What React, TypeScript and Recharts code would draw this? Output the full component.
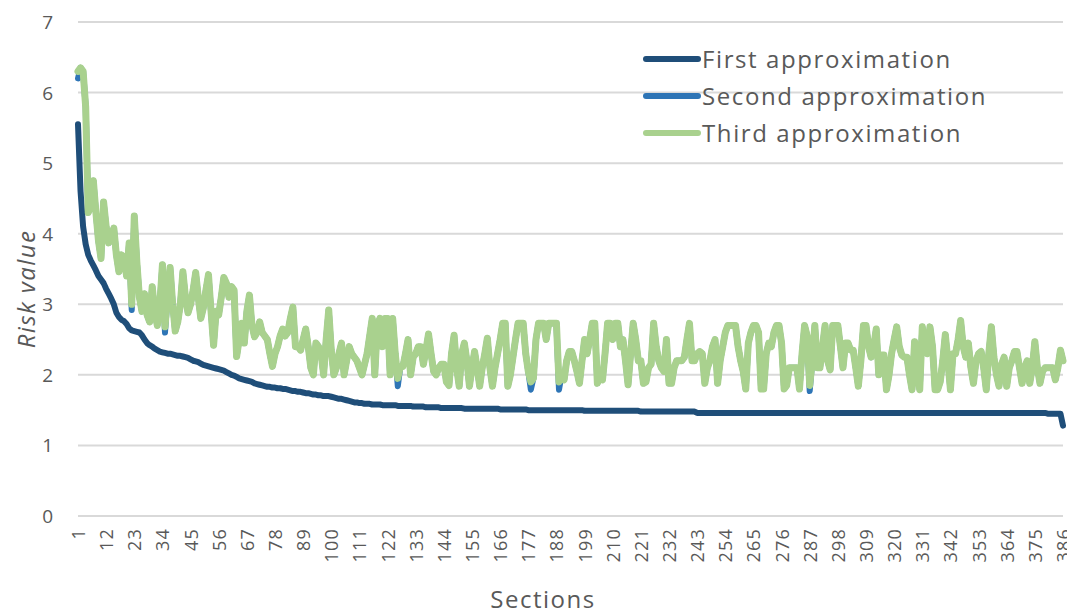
import React from 'react';
import { LineChart, Line, XAxis, YAxis, CartesianGrid, Legend, Label } from 'recharts';

const sections = Array.from({ length: 386 }, (_, i) => i + 1);

const first = [
  5.55, 4.6, 4.1, 3.85, 3.7, 3.62, 3.55, 3.48, 3.4, 3.35, 3.3,
  3.22, 3.15, 3.08, 3.0, 2.88, 2.82, 2.78, 2.76, 2.72, 2.66, 2.63,
  2.62, 2.61, 2.6, 2.56, 2.5, 2.45, 2.42, 2.4, 2.37, 2.35, 2.33,
  2.32, 2.31, 2.3, 2.3, 2.29, 2.28, 2.27, 2.27, 2.26, 2.25, 2.24,
  2.22, 2.2, 2.19, 2.18, 2.16, 2.14, 2.13, 2.12, 2.11, 2.1, 2.09,
  2.08, 2.07, 2.06, 2.04, 2.02, 2.0, 1.99, 1.97, 1.95, 1.94, 1.93,
  1.92, 1.91, 1.9, 1.88, 1.87, 1.86, 1.85, 1.84, 1.83, 1.83, 1.82,
  1.82, 1.81, 1.81, 1.8, 1.8, 1.79, 1.78, 1.77, 1.77, 1.76, 1.76,
  1.75, 1.74, 1.74, 1.73, 1.72, 1.72, 1.71, 1.71, 1.7, 1.7, 1.7,
  1.69, 1.68, 1.67, 1.66, 1.66, 1.65, 1.64, 1.63, 1.62, 1.61, 1.61,
  1.6, 1.6, 1.59, 1.59, 1.59, 1.58, 1.58, 1.58, 1.58, 1.57, 1.57,
  1.57, 1.57, 1.57, 1.57, 1.56, 1.56, 1.56, 1.56, 1.56, 1.56, 1.55,
  1.55, 1.55, 1.55, 1.55, 1.54, 1.54, 1.54, 1.54, 1.54, 1.54, 1.53,
  1.53, 1.53, 1.53, 1.53, 1.53, 1.53, 1.53, 1.53, 1.52, 1.52, 1.52,
  1.52, 1.52, 1.52, 1.52, 1.52, 1.52, 1.52, 1.52, 1.52, 1.52, 1.52,
  1.51, 1.51, 1.51, 1.51, 1.51, 1.51, 1.51, 1.51, 1.51, 1.51, 1.51,
  1.5, 1.5, 1.5, 1.5, 1.5, 1.5, 1.5, 1.5, 1.5, 1.5, 1.5,
  1.5, 1.5, 1.5, 1.5, 1.5, 1.5, 1.5, 1.5, 1.5, 1.5, 1.5,
  1.49, 1.49, 1.49, 1.49, 1.49, 1.49, 1.49, 1.49, 1.49, 1.49, 1.49,
  1.49, 1.49, 1.49, 1.49, 1.49, 1.49, 1.49, 1.49, 1.49, 1.49, 1.49,
  1.48, 1.48, 1.48, 1.48, 1.48, 1.48, 1.48, 1.48, 1.48, 1.48, 1.48,
  1.48, 1.48, 1.48, 1.48, 1.48, 1.48, 1.48, 1.48, 1.48, 1.48, 1.48,
  1.46, 1.46, 1.46, 1.46, 1.46, 1.46, 1.46, 1.46, 1.46, 1.46, 1.46,
  1.46, 1.46, 1.46, 1.46, 1.46, 1.46, 1.46, 1.46, 1.46, 1.46, 1.46,
  1.46, 1.46, 1.46, 1.46, 1.46, 1.46, 1.46, 1.46, 1.46, 1.46, 1.46,
  1.46, 1.46, 1.46, 1.46, 1.46, 1.46, 1.46, 1.46, 1.46, 1.46, 1.46,
  1.46, 1.46, 1.46, 1.46, 1.46, 1.46, 1.46, 1.46, 1.46, 1.46, 1.46,
  1.46, 1.46, 1.46, 1.46, 1.46, 1.46, 1.46, 1.46, 1.46, 1.46, 1.46,
  1.46, 1.46, 1.46, 1.46, 1.46, 1.46, 1.46, 1.46, 1.46, 1.46, 1.46,
  1.46, 1.46, 1.46, 1.46, 1.46, 1.46, 1.46, 1.46, 1.46, 1.46, 1.46,
  1.46, 1.46, 1.46, 1.46, 1.46, 1.46, 1.46, 1.46, 1.46, 1.46, 1.46,
  1.46, 1.46, 1.46, 1.46, 1.46, 1.46, 1.46, 1.46, 1.46, 1.46, 1.46,
  1.46, 1.46, 1.46, 1.46, 1.46, 1.46, 1.46, 1.46, 1.46, 1.46, 1.46,
  1.46, 1.46, 1.46, 1.46, 1.46, 1.46, 1.46, 1.46, 1.46, 1.46, 1.46,
  1.46, 1.46, 1.46, 1.46, 1.46, 1.45, 1.45, 1.45, 1.45, 1.45, 1.45,
  1.28,
];

const second = [
  6.2, 6.35, 6.3, 5.8, 4.3, 4.4, 4.75, 4.3, 3.9, 3.65, 4.45,
  4.1, 3.87, 3.95, 4.08, 3.7, 3.46, 3.7, 3.65, 3.4, 3.87, 2.92,
  4.25, 3.6, 3.1, 2.9, 3.15, 2.85, 2.75, 3.25, 2.9, 2.7, 3.0,
  3.56, 2.6, 3.1, 3.52, 3.0, 2.62, 2.75, 3.0, 3.46, 3.1, 2.88,
  3.0, 3.2, 3.45, 3.1, 2.8, 2.95, 3.2, 3.42, 2.9, 2.42, 2.9,
  2.85, 3.1, 3.38, 3.3, 3.1, 3.25, 3.2, 2.26, 2.5, 2.73, 2.45,
  2.9, 3.13, 2.7, 2.54, 2.6, 2.75, 2.6, 2.55, 2.5, 2.3, 2.12,
  2.3, 2.4, 2.55, 2.65, 2.55, 2.6, 2.8, 2.96, 2.4, 2.4, 2.35,
  2.5, 2.65, 2.4, 2.1, 2.0, 2.45, 2.4, 2.3, 2.0, 2.5, 2.92,
  2.35, 2.0, 2.1, 2.3, 2.45, 2.0, 2.2, 2.4, 2.3, 2.25, 2.2,
  2.1, 2.0, 2.15, 2.3, 2.55, 2.8, 2.0, 2.7, 2.8, 2.4, 2.8,
  2.8, 2.0, 2.8, 2.3, 1.84, 2.12, 2.12, 2.3, 2.5, 2.0, 2.25,
  2.3, 2.4, 2.4, 2.15, 2.35, 2.58, 2.3, 2.05, 2.0, 2.1, 2.15,
  2.15, 1.9, 1.85, 2.3, 2.56, 2.1, 1.84, 2.3, 2.45, 2.2, 1.84,
  2.1, 2.33, 2.1, 1.84, 2.1, 2.3, 2.52, 2.1, 1.84, 2.1, 2.3,
  2.5, 2.73, 2.73, 1.84, 2.0, 2.25, 2.5, 2.73, 2.73, 2.73, 2.3,
  2.05, 1.79, 1.95, 2.5, 2.73, 2.73, 2.73, 2.5, 2.73, 2.73, 2.73,
  2.73, 1.79, 2.0, 1.93, 2.2, 2.33, 2.33, 2.2, 2.05, 1.88, 2.2,
  2.5, 2.3, 2.5, 2.73, 2.73, 1.88, 2.0, 1.93, 2.3, 2.73, 2.73,
  2.5, 2.73, 2.73, 2.4, 2.5, 2.2, 1.86, 2.3, 2.73, 2.5, 2.2,
  2.2, 1.88, 1.9, 2.1, 2.15, 2.73, 2.4, 2.2, 2.1, 2.05, 2.5,
  1.88, 1.88, 2.1, 2.2, 2.2, 2.2, 2.25, 2.5, 2.73, 2.2, 2.2,
  2.3, 2.33, 2.3, 1.88, 2.1, 2.2, 2.4, 2.5, 1.88, 2.2, 2.4,
  2.6, 2.7, 2.7, 2.7, 2.7, 2.4, 2.2, 2.05, 1.8, 2.45, 2.6,
  2.7, 2.7, 2.6, 1.8, 1.8, 2.3, 2.45, 2.4, 2.6, 2.7, 2.7,
  2.45, 1.8, 1.85, 2.1, 2.1, 2.1, 2.1, 1.8, 2.3, 2.7, 2.55,
  1.77, 2.2, 2.7, 2.1, 2.1, 2.4, 2.7, 2.2, 2.07, 2.7, 2.7,
  2.7, 2.4, 2.1, 2.45, 2.45, 2.35, 2.35, 2.1, 1.84, 2.2, 2.7,
  2.7, 2.4, 2.25, 2.4, 2.65, 2.0, 2.28, 2.28, 1.79, 2.0, 2.3,
  2.5, 2.68, 2.4, 2.28, 2.25, 2.25, 2.0, 1.79, 2.47, 2.1, 1.79,
  2.68, 2.4, 2.3, 2.68, 2.4, 1.79, 1.79, 1.9, 2.2, 2.57, 2.2,
  1.79, 2.3, 2.3, 2.5, 2.77, 2.4, 2.25, 2.45, 2.1, 1.88, 2.2,
  2.3, 2.33, 2.1, 1.79, 2.3, 2.68, 2.25, 2.0, 1.84, 2.15, 2.25,
  1.84, 2.1, 2.2, 2.33, 2.33, 2.1, 1.88, 2.1, 2.2, 1.88, 2.1,
  2.47, 2.1, 1.88, 2.05, 2.1, 2.1, 2.1, 2.1, 1.93, 2.1, 2.35,
  2.2,
];

const third = [
  6.3, 6.35, 6.3, 5.8, 4.3, 4.4, 4.75, 4.3, 3.9, 3.65, 4.45,
  4.1, 3.87, 3.95, 4.08, 3.7, 3.46, 3.7, 3.65, 3.4, 3.87, 3.0,
  4.25, 3.6, 3.1, 2.9, 3.15, 2.85, 2.75, 3.25, 2.9, 2.7, 3.0,
  3.56, 2.68, 3.1, 3.52, 3.0, 2.62, 2.75, 3.0, 3.46, 3.1, 2.88,
  3.0, 3.2, 3.45, 3.1, 2.8, 2.95, 3.2, 3.42, 2.9, 2.42, 2.9,
  2.85, 3.1, 3.38, 3.3, 3.1, 3.25, 3.2, 2.26, 2.5, 2.73, 2.45,
  2.9, 3.13, 2.7, 2.54, 2.6, 2.75, 2.6, 2.55, 2.5, 2.3, 2.12,
  2.3, 2.4, 2.55, 2.65, 2.55, 2.6, 2.8, 2.96, 2.4, 2.4, 2.35,
  2.5, 2.65, 2.4, 2.1, 2.0, 2.45, 2.4, 2.3, 2.0, 2.5, 2.92,
  2.35, 2.0, 2.1, 2.3, 2.45, 2.0, 2.2, 2.4, 2.3, 2.25, 2.2,
  2.1, 2.0, 2.15, 2.3, 2.55, 2.8, 2.0, 2.7, 2.8, 2.4, 2.8,
  2.8, 2.0, 2.8, 2.3, 1.95, 2.12, 2.12, 2.3, 2.5, 2.0, 2.25,
  2.3, 2.4, 2.4, 2.15, 2.35, 2.58, 2.3, 2.05, 2.0, 2.1, 2.15,
  2.15, 1.9, 1.85, 2.3, 2.56, 2.1, 1.84, 2.3, 2.45, 2.2, 1.84,
  2.1, 2.33, 2.1, 1.84, 2.1, 2.3, 2.52, 2.1, 1.84, 2.1, 2.3,
  2.5, 2.73, 2.73, 1.84, 2.0, 2.25, 2.5, 2.73, 2.73, 2.73, 2.3,
  2.05, 1.9, 1.95, 2.5, 2.73, 2.73, 2.73, 2.5, 2.73, 2.73, 2.73,
  2.73, 1.9, 2.0, 1.93, 2.2, 2.33, 2.33, 2.2, 2.05, 1.88, 2.2,
  2.5, 2.3, 2.5, 2.73, 2.73, 1.88, 2.0, 1.93, 2.3, 2.73, 2.73,
  2.5, 2.73, 2.73, 2.4, 2.5, 2.2, 1.86, 2.3, 2.73, 2.5, 2.2,
  2.2, 1.88, 1.9, 2.1, 2.15, 2.73, 2.4, 2.2, 2.1, 2.05, 2.5,
  1.88, 1.88, 2.1, 2.2, 2.2, 2.2, 2.25, 2.5, 2.73, 2.2, 2.2,
  2.3, 2.33, 2.3, 1.88, 2.1, 2.2, 2.4, 2.5, 1.88, 2.2, 2.4,
  2.6, 2.7, 2.7, 2.7, 2.7, 2.4, 2.2, 2.05, 1.8, 2.45, 2.6,
  2.7, 2.7, 2.6, 1.8, 1.8, 2.3, 2.45, 2.4, 2.6, 2.7, 2.7,
  2.45, 1.8, 1.85, 2.1, 2.1, 2.1, 2.1, 1.8, 2.3, 2.7, 2.55,
  1.85, 2.2, 2.7, 2.1, 2.1, 2.4, 2.7, 2.2, 2.07, 2.7, 2.7,
  2.7, 2.4, 2.1, 2.45, 2.45, 2.35, 2.35, 2.1, 1.84, 2.2, 2.7,
  2.7, 2.4, 2.25, 2.4, 2.65, 2.0, 2.28, 2.28, 1.79, 2.0, 2.3,
  2.5, 2.68, 2.4, 2.28, 2.25, 2.25, 2.0, 1.79, 2.47, 2.1, 1.79,
  2.68, 2.4, 2.3, 2.68, 2.4, 1.79, 1.79, 1.9, 2.2, 2.57, 2.2,
  1.79, 2.3, 2.3, 2.5, 2.77, 2.4, 2.25, 2.45, 2.1, 1.88, 2.2,
  2.3, 2.33, 2.1, 1.79, 2.3, 2.68, 2.25, 2.0, 1.84, 2.15, 2.25,
  1.84, 2.1, 2.2, 2.33, 2.33, 2.1, 1.88, 2.1, 2.2, 1.88, 2.1,
  2.47, 2.1, 1.88, 2.05, 2.1, 2.1, 2.1, 2.1, 1.93, 2.1, 2.35,
  2.2,
];

const xTicks = [1, 12, 23, 34, 45, 56, 67, 78, 89, 100, 111, 122, 133, 144, 155, 166, 177, 188, 199, 210, 221, 232, 243, 254, 265, 276, 287, 298, 309, 320, 331, 342, 353, 364, 375, 386];
const yTicks = [0, 1, 2, 3, 4, 5, 6, 7];

const seriesKeys = ['first', 'second', 'third'];
const seriesNames = ['First approximation', 'Second approximation', 'Third approximation'];
const seriesColors = ['#1F4E79', '#2E75B6', '#A9D18E'];

const data = sections.map((s, i) => ({ section: s, first: first[i], second: second[i], third: third[i] }));

const FONT = "'Open Sans', Lato, sans-serif";
const TEXT = '#595959';

const XTick = (props: any) => {
  const { x, payload } = props;
  return (
    <text
      transform={`translate(${x},520) rotate(-90)`}
      textAnchor="end"
      dominantBaseline="central"
      fontSize={18}
      letterSpacing={1.2}
      fontFamily={FONT}
      fill={TEXT}
    >
      {payload.value}
    </text>
  );
};

const YTick = (props: any) => {
  const { y, payload } = props;
  return (
    <text x={45} y={y} textAnchor="end" dominantBaseline="central" fontSize={19} fontFamily={FONT} fill={TEXT}>
      {payload.value}
    </text>
  );
};

const renderLegend = () => (
  <div style={{ fontFamily: FONT }}>
    {seriesNames.map((n, i) => (
      <div key={n} style={{ display: 'flex', alignItems: 'center', height: 36.7 }}>
        <svg width={60} height={10} style={{ display: 'block' }}>
          <line x1={5} x2={57} y1={5} y2={5} stroke={seriesColors[i]} strokeWidth={6} strokeLinecap="round" />
        </svg>
        <span style={{ fontSize: 24, color: TEXT, marginLeft: 1, lineHeight: 1, whiteSpace: 'nowrap', letterSpacing: 1.6 }}>{n}</span>
      </div>
    ))}
  </div>
);

export default function App() {
  return (
    <LineChart width={1067} height={608} data={data} margin={{ top: 14, right: 12, bottom: 0, left: 0 }}>
      <CartesianGrid vertical={false} stroke="#d9d9d9" strokeWidth={2} />
      <XAxis
        dataKey="section"
        type="number"
        domain={[1, 386]}
        ticks={xTicks}
        interval={0}
        height={100}
        axisLine={false}
        tickLine={false}
        tick={<XTick />}
      >
        <Label
          content={() => (
            <text x={535} y={590} textAnchor="middle" dominantBaseline="central" fontSize={24} letterSpacing={1.5} fontFamily={FONT} fill={TEXT}>
              Sections
            </text>
          )}
        />
      </XAxis>
      <YAxis
        type="number"
        domain={[0, 7]}
        ticks={yTicks}
        width={70}
        axisLine={false}
        tickLine={false}
        tick={<YTick />}
      >
        <Label
          content={() => (
            <text
              transform="translate(17,281) rotate(-90)"
              textAnchor="middle"
              dominantBaseline="central"
              fontSize={24}
              fontStyle="italic"
              letterSpacing={1.4}
              fontFamily={FONT}
              fill={TEXT}
            >
              Risk value
            </text>
          )}
        />
      </YAxis>
      <Legend
        layout="vertical"
        align="center"
        verticalAlign="middle"
        wrapperStyle={{ left: 633, top: 33, width: 430 }}
        content={renderLegend}
      />
      {seriesKeys.map((k, i) => (
        <Line
          key={k}
          type="linear"
          dataKey={k}
          name={seriesNames[i]}
          stroke={seriesColors[i]}
          strokeWidth={i === 2 ? 7 : 6}
          strokeLinejoin="round"
          strokeLinecap="round"
          dot={false}
          activeDot={false}
          isAnimationActive={false}
        />
      ))}
    </LineChart>
  );
}
